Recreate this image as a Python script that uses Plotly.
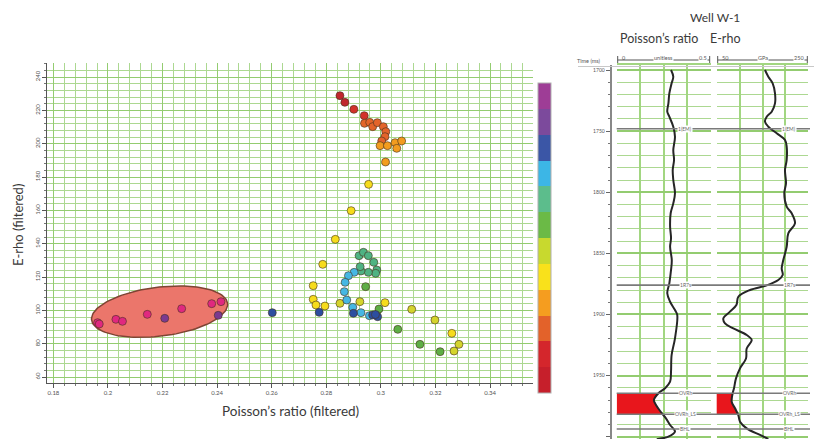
import numpy as np
import plotly.graph_objects as go

W, H = 814, 439

# ---------------- Crossplot data ----------------
PR = [0.1962, 0.1968, 0.2029, 0.2053, 0.2144, 0.2208, 0.2270, 0.2380, 0.2414, 0.2404, 0.2602,
      0.2850, 0.2868, 0.2901, 0.2939,
      0.2940, 0.2959, 0.2970, 0.2987, 0.3009, 0.3018, 0.3015, 0.3003,
      0.2997, 0.3024, 0.3052, 0.3076, 0.3058, 0.3017,
      0.2955, 0.2891, 0.2833, 0.2787,
      0.2752, 0.2752, 0.2762, 0.2795, 0.2850, 0.2923, 0.3015, 0.3113, 0.3198, 0.3260, 0.3286, 0.3268,
      0.2944, 0.2993, 0.3062, 0.3143, 0.3217,
      0.2920, 0.2936, 0.2954, 0.2974, 0.2985, 0.2981, 0.2954, 0.2927, 0.2924,
      0.2902, 0.2881, 0.2869, 0.2866, 0.2875, 0.2897, 0.2927, 0.2958,
      0.2774, 0.2899, 0.2970, 0.2988, 0.2980]
ER = [92.6, 91.8, 94.6, 93.4, 97.6, 95.2, 101.0, 104.0, 105.2, 97.0, 98.6,
      228.8, 224.8, 220.6, 216.8,
      212.2, 212.8, 210.2, 212.6, 210.2, 207.2, 204.2, 201.6,
      198.8, 198.8, 200.6, 201.6, 197.2, 189.0,
      175.6, 159.8, 142.6, 127.6,
      114.8, 106.6, 103.2, 102.6, 104.2, 105.2, 104.6, 100.6, 94.2, 86.2, 79.6, 75.6,
      114.2, 100.8, 88.6, 79.6, 75.2,
      132.8, 134.8, 132.8, 128.8, 124.2, 122.2, 122.8, 123.6, 126.2,
      122.8, 120.8, 116.8, 111.2, 106.2, 101.8, 98.6, 96.8,
      98.8, 98.2, 97.2, 96.2, 97.5]
ZONE = [12, 12, 12, 12, 12, 11, 12, 12, 12, 11, 10,
        1, 1, 2, 2,
        3, 3, 3, 3, 3, 3, 3, 3,
        4, 4, 4, 4, 4, 4,
        5, 5, 5, 5,
        5, 5, 5, 5, 6, 6, 5, 6, 6, 5, 6, 6,
        7, 7, 7, 7, 7,
        8, 8, 8, 8, 8, 8, 8, 8, 8,
        9, 9, 9, 9, 9, 9, 9, 9,
        10, 10, 10, 10, 10]

X_TICKS = [0.18, 0.20, 0.22, 0.24, 0.26, 0.28, 0.30, 0.32, 0.34]
X_TICK_TEXT = ["0.18", "0.2", "0.22", "0.24", "0.26", "0.28", "0.3", "0.32", "0.34"]
Y_TICKS = [60, 80, 100, 120, 140, 160, 180, 200, 220, 240]

# ---------------- Well log data (Well W-1) ----------------
T_PR = [1700, 1705.5, 1710.9, 1719.1, 1727.3, 1734.1, 1738.2, 1746.4, 1754.6, 1765.5, 1773.6,
        1781.8, 1790, 1800.9, 1809.1, 1817.2, 1828.2, 1837.7, 1844.6, 1855.5, 1863.6, 1874.5,
        1882.7, 1889.6, 1896.4, 1900.4, 1919.5, 1933.2, 1946.8, 1955.0, 1960.4, 1964.5, 1970.0,
        1974.1, 1979.6, 1985.0, 1990.4, 1995.9, 2000, 2002]
PR_LOG = [0.289, 0.301, 0.292, 0.280, 0.275, 0.269, 0.280, 0.301, 0.310, 0.301, 0.305,
          0.298, 0.301, 0.310, 0.301, 0.287, 0.284, 0.289, 0.284, 0.293, 0.289, 0.280,
          0.269, 0.284, 0.310, 0.322, 0.310, 0.292, 0.289, 0.284, 0.257, 0.222, 0.198,
          0.209, 0.234, 0.262, 0.284, 0.310, 0.275, 0.213]
T_ER = [1700, 1705.5, 1710.9, 1719.1, 1727.3, 1734.1, 1738.2, 1742.3, 1746.4, 1751.8, 1757.3,
        1762.7, 1773.6, 1781.8, 1792.7, 1800.9, 1811.8, 1817.2, 1825.4, 1833.6, 1844.6, 1855.5,
        1862.3, 1867.7, 1871.8, 1876.2, 1880.0, 1885.5, 1892.3, 1897.7, 1903.2, 1907.3, 1911.4,
        1916.8, 1920.9, 1927.8, 1936.0, 1944.1, 1952.3, 1960.4, 1964.5, 1971.4, 1976.8, 1982.3,
        1987.7, 1993.2, 1998.6, 2001.9]
ER_LOG = [155.4, 162.7, 172.2, 177.3, 177.3, 170.1, 159.2, 155.4, 162.7, 181.0, 199.1,
          202.8, 202.8, 199.1, 201.3, 197.6, 202.8, 213.7, 220.9, 206.3, 202.8, 195.4,
          191.9, 194.1, 184.5, 159.2, 122.7, 97.2, 93.0, 79.0, 64.5, 68.1, 86.3,
          115.5, 126.4, 115.5, 114.0, 100.9, 92.1, 87.8, 84.9, 82.7, 90.0, 97.2,
          100.9, 115.5, 144.5, 162.7]
T_TICKS = [1700, 1750, 1800, 1850, 1900, 1950, 2000]
MARKER_T = [1748.0, 1876.0, 1964.5, 1981.7, 1993.7]
MARKER_NAMES = ["1(EM)", "1R7s", "OVRh", "OVRh_LS", "BHL"]
PR_SCALE = [0.0, 0.5]
ER_SCALE = [50, 250]

# ---------------- styles ----------------
POINT_COLORS = ["#c0272d", "#d2322b", "#e3642a", "#f39c1f", "#f6dc1c", "#d4d42c",
                "#5eae45", "#4fb383", "#45b7e3", "#2c4ea0", "#7b3a90", "#e0287f"]
BAR_COLORS = ["#c61f2b", "#d4262c", "#e3622a", "#f59d1f", "#f9e11b", "#c8d92e",
              "#6bba46", "#5cbd8c", "#3cb6e6", "#3b56a6", "#7c4a9c", "#9e3d96"]


def discrete(colors):
    n = len(colors)
    sc = []
    for i, c in enumerate(colors):
        sc += [[i / n, c], [(i + 1) / n, c]]
    return sc


def pxx(px):
    return px / W


def pxy(py):
    return (H - py) / H


# main plot geometry (pixels)
MX0, MX1, MY0, MY1 = 47, 533, 63, 383
XR = [0.17765, 0.35574]
YR = [56.4, 248.4]
XPPU = (MX1 - MX0) / (XR[1] - XR[0])
YPPU = (MY1 - MY0) / (YR[1] - YR[0])

# well panel geometry (pixels)
T1X0, T1X1, T2X0, T2X1 = 616.7, 710.7, 716.7, 808.3
WTOP = 65
TR = [2001.9, 1695.9]

fig = go.Figure()

# ellipse highlighting low Poisson's ratio cluster
ELL_C = (0.2189, 99.2)
ELL_A, ELL_B, ELL_ANG = 68.5, 24.5, np.deg2rad(7.0)
tt = np.linspace(0, 2 * np.pi, 120)
dxp = ELL_A * np.cos(tt) * np.cos(ELL_ANG) - ELL_B * np.sin(tt) * np.sin(ELL_ANG)
dyp = ELL_A * np.cos(tt) * np.sin(ELL_ANG) + ELL_B * np.sin(tt) * np.cos(ELL_ANG)
fig.add_trace(go.Scatter(x=ELL_C[0] + dxp / XPPU, y=ELL_C[1] + dyp / YPPU, mode="lines",
                         fill="toself", fillcolor="#eb766b",
                         line=dict(color="#7e4434", width=1.5),
                         xaxis="x", yaxis="y", showlegend=False, hoverinfo="skip"))

fig.add_trace(go.Scatter(x=PR, y=ER, mode="markers", xaxis="x", yaxis="y", showlegend=False,
                         marker=dict(size=8, color=ZONE, colorscale=discrete(POINT_COLORS),
                                     cmin=0.5, cmax=12.5,
                                     line=dict(color="rgba(70,50,30,0.6)", width=1))))

# colorbar
fig.add_trace(go.Scatter(x=[None], y=[None], mode="markers", xaxis="x", yaxis="y",
                         showlegend=False, hoverinfo="skip",
                         marker=dict(color=[1], colorscale=discrete(BAR_COLORS), cmin=0.5,
                                     cmax=12.5, showscale=True,
                                     colorbar=dict(x=pxx(538), xanchor="left", y=pxy(238),
                                                   yanchor="middle", len=310 / H,
                                                   lenmode="fraction", thickness=13,
                                                   thicknessmode="pixels", outlinewidth=1,
                                                   outlinecolor="#b0b0b0", showticklabels=False,
                                                   ticks="", xpad=0, ypad=0))))

# well tracks: red zone fill
ztop, zbase = MARKER_T[2], MARKER_T[3]
tz = np.linspace(ztop, zbase, 40)
fig.add_trace(go.Scatter(x=np.interp(tz, T_PR, PR_LOG), y=tz, mode="lines", fill="tozerox",
                         fillcolor="#e8161c", line=dict(width=0), xaxis="x2", yaxis="y2",
                         showlegend=False, hoverinfo="skip"))
fig.add_trace(go.Scatter(x=np.interp(tz, T_ER, ER_LOG), y=tz, mode="lines", fill="tozerox",
                         fillcolor="#e8161c", line=dict(width=0), xaxis="x3", yaxis="y3",
                         showlegend=False, hoverinfo="skip"))
fig.add_trace(go.Scatter(x=PR_LOG, y=T_PR, mode="lines", line=dict(color="#262626", width=2,
                         shape="spline"), xaxis="x2", yaxis="y2", showlegend=False))
fig.add_trace(go.Scatter(x=ER_LOG, y=T_ER, mode="lines", line=dict(color="#262626", width=2,
                         shape="spline"), xaxis="x3", yaxis="y3", showlegend=False))

GMAJ, GMIN = "#93cc70", "#acd891"
FONT = "Lato"
tickfont = dict(family=FONT, size=6, color="#555")

shapes = []
annotations = []


def note(px, py, text, size, color="#3a3a3a", **kw):
    d = dict(x=pxx(px), y=pxy(py), xref="paper", yref="paper", text=text, showarrow=False,
             xanchor="center", yanchor="middle", font=dict(family=FONT, size=size, color=color))
    d.update(kw)
    annotations.append(d)


for t, name in zip(MARKER_T, MARKER_NAMES):
    shapes.append(dict(type="line", xref="paper", yref="y2", x0=pxx(T1X0), x1=pxx(810),
                       y0=t, y1=t, line=dict(color="#7a7a7a", width=1.6), layer="above"))
    for xc in (685, 789):
        annotations.append(dict(x=pxx(xc), y=t, xref="paper", yref="y2", text=name,
                                xanchor="center", yanchor="middle", showarrow=False,
                                font=dict(family=FONT, size=5, color="#666"),
                                bgcolor="white", borderpad=0))

# header scale bars
for (x0, x1, labs) in ((T1X0, T1X1, ("0", "unitless", "0.5")),
                       (T2X0, T2X1, ("50", "GPa", "250"))):
    shapes.append(dict(type="line", xref="paper", yref="paper", x0=pxx(x0 + 1), x1=pxx(x1 - 1),
                       y0=pxy(60), y1=pxy(60), line=dict(color="#555", width=1)))
    for xe in (x0 + 1, x1 - 1):
        shapes.append(dict(type="line", xref="paper", yref="paper", x0=pxx(xe), x1=pxx(xe),
                           y0=pxy(56), y1=pxy(63), line=dict(color="#555", width=1)))
    note(x0 + 3, 58, labs[0], 5.5, "#555", xanchor="left")
    note((x0 + x1) / 2, 58, labs[1], 5.5, "#555", bgcolor="white", borderpad=0)
    note(x1 - 3, 58, labs[2], 5.5, "#555", xanchor="right", bgcolor="white", borderpad=0)

shapes.append(dict(type="line", xref="paper", yref="paper", x0=pxx(578), x1=1,
                   y0=pxy(66.5), y1=pxy(66.5), line=dict(color="#c8c8c8", width=1)))

note(589, 61, "Time (ms)", 5.5, "#555")
note(18, 225, "E-rho (filtered)", 13, textangle=-90)
note(290, 411, "Poisson’s ratio (filtered)", 13.5)
note(715, 18, "Well W-1", 12)
note(659, 38, "Poisson’s ratio", 12.5)
note(725, 38, "E-rho", 12.5)

track_y = dict(domain=[0, pxy(WTOP)], range=TR, showgrid=True, gridcolor=GMAJ, gridwidth=1.6,
               tickvals=T_TICKS, zeroline=False,
               minor=dict(dtick=10, tick0=1700, showgrid=True, gridcolor=GMIN, gridwidth=1))

fig.update_layout(
    width=W, height=H, autosize=False, margin=dict(l=0, r=0, t=0, b=0),
    paper_bgcolor="white", plot_bgcolor="white", showlegend=False,
    xaxis=dict(domain=[pxx(MX0), pxx(MX1)], range=XR, anchor="y", tickvals=X_TICKS,
               ticktext=X_TICK_TEXT, ticks="outside", ticklen=4, tickcolor="#555",
               tickfont=tickfont, showline=True, linecolor="#555", linewidth=1.2,
               showgrid=True, gridcolor=GMAJ, gridwidth=1.3, zeroline=False,
               minor=dict(dtick=0.004, tick0=0.18, ticks="outside", ticklen=2,
                          tickcolor="#777", showgrid=True, gridcolor=GMIN, gridwidth=1.1)),
    yaxis=dict(domain=[pxy(MY1), pxy(MY0)], range=YR, anchor="x", tickvals=Y_TICKS,
               ticks="outside", ticklen=4, tickcolor="#555", tickangle=-90,
               tickfont=tickfont, showline=True, linecolor="#555", linewidth=1.2,
               showgrid=True, gridcolor=GMAJ, gridwidth=1.3, zeroline=False,
               minor=dict(dtick=4, tick0=0, ticks="outside", ticklen=2,
                          tickcolor="#777", showgrid=True, gridcolor=GMIN, gridwidth=1.1)),
    xaxis2=dict(domain=[pxx(T1X0), pxx(T1X1)], range=PR_SCALE, anchor="y2", dtick=0.125,
                tick0=0, showticklabels=False, ticks="", showgrid=True, gridcolor="#a2d681",
                gridwidth=2, zeroline=False, showline=True, mirror=True, linecolor="#a2d681",
                linewidth=2),
    xaxis3=dict(domain=[pxx(T2X0), pxx(T2X1)], range=ER_SCALE, anchor="y3", dtick=50,
                tick0=50, showticklabels=False, ticks="", showgrid=True, gridcolor="#a2d681",
                gridwidth=2, zeroline=False, showline=True, mirror=True, linecolor="#a2d681",
                linewidth=2),
    yaxis2=dict(track_y, anchor="free", position=pxx(610.7), side="left", ticks="outside",
                ticklen=4, tickcolor="#666", tickfont=dict(family=FONT, size=5, color="#555"),
                showline=True, linecolor="#888", linewidth=2),
    yaxis3=dict(track_y, anchor="x3", matches="y2", showticklabels=False, ticks=""),
    shapes=shapes, annotations=annotations,
)
fig.update_layout(yaxis2_minor=dict(ticks="outside", ticklen=2, tickcolor="#777"))

fig.write_html("out.html", config={"displayModeBar": False})
